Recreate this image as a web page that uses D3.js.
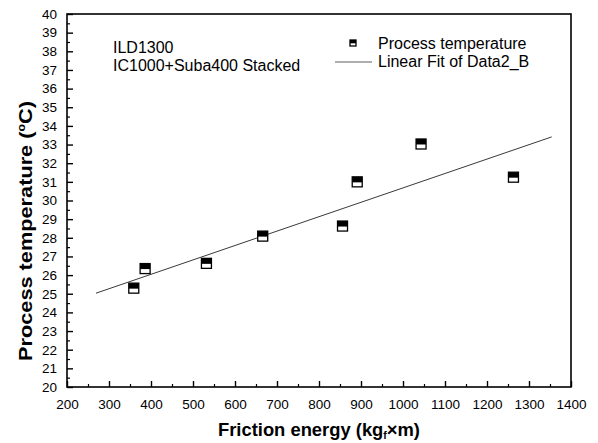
<!DOCTYPE html>
<html><head><meta charset="utf-8">
<script src="https://cdn.jsdelivr.net/npm/d3@7"></script>
<style>body{margin:0;background:#fff}svg{font-family:"Liberation Sans",Arial,sans-serif}</style>
</head><body>
<svg id="c" width="598" height="443"></svg>
<script>
const frictionEnergy = [359, 386, 532, 666, 856, 891, 1043, 1263];
const processTemp = [25.3, 26.35, 26.63, 28.09, 28.63, 31.0, 33.03, 31.25];
const fitX = [269, 1354];
const fitY = [25.03, 33.41];
const xTicks = d3.range(200, 1401, 100);
const yTicks = d3.range(20, 41, 1);
const annotations = ["ILD1300", "IC1000+Suba400 Stacked"];
const legendLabels = ["Process temperature", "Linear Fit of Data2_B"];

const m = {l: 67, r: 571, t: 14, b: 387};
const svg = d3.select("#c");
const x = d3.scaleLinear().domain([200, 1400]).range([m.l, m.r]);
const y = d3.scaleLinear().domain([20, 40]).range([m.b, m.t]);

// frame
svg.append("rect").attr("x", m.l).attr("y", m.t).attr("width", m.r - m.l).attr("height", m.b - m.t)
  .attr("fill", "none").attr("stroke", "#000").attr("stroke-width", 1.6);

// x axis
const xa = svg.append("g").attr("transform", `translate(0,${m.b})`)
  .call(d3.axisBottom(x).tickValues(xTicks).tickFormat(d3.format("d")).tickSizeInner(-6).tickSizeOuter(0).tickPadding(12));
xa.select(".domain").remove();
xa.selectAll("line").attr("stroke-width", 1.4);
xa.selectAll("text").attr("font-size", 13.5).attr("fill", "#000");
const xm = svg.append("g").attr("transform", `translate(0,${m.b})`)
  .call(d3.axisBottom(x).tickValues(d3.range(250, 1400, 100)).tickFormat("").tickSizeInner(-3).tickSizeOuter(0));
xm.select(".domain").remove();
xm.selectAll("line").attr("stroke-width", 1.2);

// y axis
const ya = svg.append("g").attr("transform", `translate(${m.l},0)`)
  .call(d3.axisLeft(y).tickValues(yTicks).tickFormat(d3.format("d")).tickSizeInner(-6).tickSizeOuter(0).tickPadding(10));
ya.select(".domain").remove();
ya.selectAll("line").attr("stroke-width", 1.4);
ya.selectAll("text").attr("font-size", 13.5).attr("fill", "#000");
const ym = svg.append("g").attr("transform", `translate(${m.l},0)`)
  .call(d3.axisLeft(y).tickValues(d3.range(20.5, 40, 1)).tickFormat("").tickSizeInner(-3).tickSizeOuter(0));
ym.select(".domain").remove();
ym.selectAll("line").attr("stroke-width", 1.2);

// axis titles
const xt = svg.append("text").attr("x", 319).attr("y", 436).attr("text-anchor", "middle")
  .attr("font-size", 17.5).attr("font-weight", "bold")
  .attr("textLength", 202).attr("lengthAdjust", "spacingAndGlyphs");
xt.append("tspan").text("Friction energy (kg");
xt.append("tspan").attr("font-size", 10).attr("dy", 3).text("f");
xt.append("tspan").attr("dy", -3).text("×m)");
const yt = svg.append("text").attr("transform", `translate(32,231) rotate(-90)`)
  .attr("text-anchor", "middle").attr("font-size", 17.5).attr("font-weight", "bold")
  .attr("textLength", 260).attr("lengthAdjust", "spacingAndGlyphs");
yt.append("tspan").text("Process temperature (");
yt.append("tspan").attr("font-size", 10).attr("dy", -7).text("o");
yt.append("tspan").attr("dy", 7).text("C)");

// fit line
svg.append("line").attr("x1", x(fitX[0])).attr("y1", y(fitY[0])).attr("x2", x(fitX[1])).attr("y2", y(fitY[1]))
  .attr("stroke", "#222").attr("stroke-width", 0.9);

// markers
function marker(g, cx, cy, s) {
  g.append("rect").attr("x", cx - s / 2).attr("y", cy - s / 2).attr("width", s).attr("height", s)
    .attr("fill", "#fff").attr("stroke", "#000").attr("stroke-width", 1.3);
  g.append("rect").attr("x", cx - s / 2).attr("y", cy - s / 2).attr("width", s).attr("height", s * 0.55)
    .attr("fill", "#000");
}
const pts = svg.append("g");
frictionEnergy.forEach((fx, i) => marker(pts, x(fx), y(processTemp[i]), 10));

// annotations
annotations.forEach((t, i) => svg.append("text").attr("x", 113).attr("y", 53 + i * 18)
  .attr("font-size", 16).text(t));

// legend
marker(svg.append("g"), 353, 43, 6);
svg.append("line").attr("x1", 335).attr("x2", 372).attr("y1", 62).attr("y2", 62).attr("stroke", "#333").attr("stroke-width", 0.8);
legendLabels.forEach((t, i) => svg.append("text").attr("x", 378).attr("y", 49 + i * 18)
  .attr("font-size", 16).text(t));
</script>
</body></html>
